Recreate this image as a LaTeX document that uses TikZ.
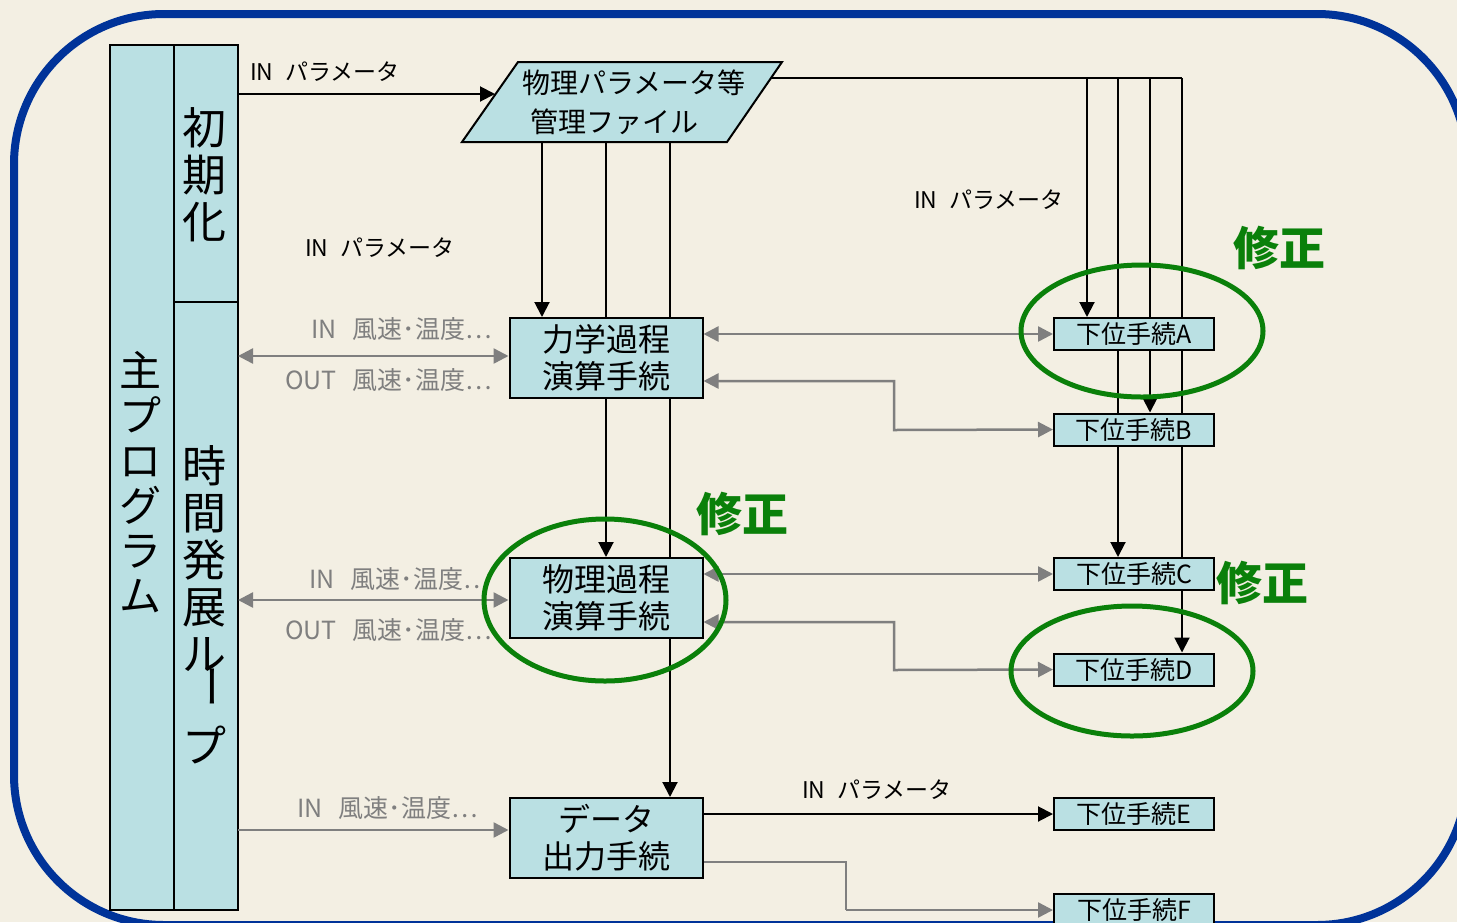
\documentclass[tikz,border=0pt]{standalone}
\usepackage{fontspec}
\setmainfont{Noto Sans CJK JP}
\usetikzlibrary{arrows.meta,shapes.geometric}
\definecolor{bg}{HTML}{F3EFE3}
\definecolor{frame}{HTML}{003399}
\definecolor{boxfill}{HTML}{BAE0E3}
\definecolor{grn}{HTML}{0A800A}
\definecolor{gry}{HTML}{7F7F7F}
\tikzset{
  pbox/.style={draw=black, line width=2pt, fill=boxfill, inner sep=0pt, align=center},
  bigbox/.style={pbox, minimum width=193pt, minimum height=80pt, font=\fontsize{32}{37}\selectfont},
  subbox/.style={pbox, minimum width=160pt, minimum height=32pt, font=\fontsize{25}{26}\selectfont},
  colbox/.style={pbox, minimum width=64pt},
  blk/.style={draw=black, line width=2pt},
  blkarr/.style={blk, -{Triangle[length=15pt,width=15pt]}},
  gar/.style={draw=gry, line width=2.5pt},
  garr/.style={gar, -{Triangle[length=15pt,width=15pt]}},
  gdbl/.style={gar, {Triangle[length=15pt,width=15pt]}-{Triangle[length=15pt,width=15pt]}},
  lbl/.style={font=\fontsize{23}{25}\selectfont, inner sep=0pt},
  glbl/.style={font=\fontsize{25}{27}\selectfont, text=gry, inner sep=0pt, anchor=east},
  fix/.style={font=\fontsize{46}{50}\selectfont\bfseries, text=grn, inner sep=0pt},
  oval/.style={draw=grn, line width=5pt}
}
\begin{document}
\begin{tikzpicture}[x=1pt,y=-1pt]
\useasboundingbox (0,0) rectangle (1457,922);
\fill[bg] (0,0) rectangle (1457,922);
\draw[frame, line width=8pt, rounded corners=150pt] (14,14) rectangle (1467,925);

% left columns
\node[colbox, minimum height=865pt] (mainp) at (142,477.5) {};
\node[colbox, minimum height=257pt] (init) at (206,173.5) {};
\node[colbox, minimum height=608pt] (loop) at (206,606) {};
\node[font=\fontsize{42}{45}\selectfont, align=center, inner sep=0pt] (mainpt) at (140,482) {主\\プ\\ロ\\グ\\ラ\\ム};
\node[font=\fontsize{44}{47}\selectfont, align=center, inner sep=0pt] (initt) at (204,175) {初\\期\\化};
\node[font=\fontsize{44}{47}\selectfont, align=center, inner sep=0pt] (loopt) at (204,559) {時\\間\\発\\展\\ル};
\node[font=\fontsize{44}{47}\selectfont, inner sep=0pt, rotate=-90] (loopbar) at (205,686) {ー};
\node[font=\fontsize{44}{47}\selectfont, inner sep=0pt] (loopp) at (204,745) {プ};

% coordinates
\coordinate (pl) at (495,94);
\coordinate (pr) at (771,78);
\coordinate (pb1) at (542,142);
\coordinate (pb2) at (606,142);
\coordinate (pb3) at (670,142);
\coordinate (t1) at (1087,78);
\coordinate (t2) at (1118,78);
\coordinate (t3) at (1150,78);
\coordinate (t4) at (1182,78);
\coordinate (li) at (238,94);
\coordinate (l1) at (238,356);
\coordinate (l2) at (238,600);
\coordinate (l3) at (238,830);
\coordinate (b1) at (894,381);
\coordinate (b2) at (894,430);
\coordinate (d1) at (894,622);
\coordinate (d2) at (894,670);
\coordinate (f1) at (846,862);
\coordinate (f2) at (846,910);

% box anchors (invisible first pass)
\node[bigbox, draw=none, fill=none] (rk) at (606,358) {};
\node[bigbox, draw=none, fill=none] (bk) at (606,598) {};
\node[bigbox, draw=none, fill=none] (dk) at (606,838) {};
\node[subbox, draw=none, fill=none] (sA) at (1134,334) {};
\node[subbox, draw=none, fill=none] (sB) at (1134,429.5) {};
\node[subbox, draw=none, fill=none] (sC) at (1134,574) {};
\node[subbox, draw=none, fill=none] (sD) at (1134,669.5) {};
\node[subbox, draw=none, fill=none] (sE) at (1134,814) {};
\node[subbox, draw=none, fill=none] (sF) at (1134,910) {};

% connectors
\draw[blkarr] (li) -- (pl);
\draw[blkarr] (pb1) -- (pb1 |- rk.north);
\draw[blkarr] (pb2) -- (pb2 |- bk.north);
\draw[blkarr] (pb3) -- (pb3 |- dk.north);
\draw[blk] (pr) -- (t4);
\draw[blkarr] (t1) -- (t1 |- sA.north);
\draw[blkarr] (t2) -- (t2 |- sC.north);
\draw[blkarr] (t3) -- (t3 |- sB.north);
\draw[blkarr] (t4) -- (t4 |- sD.north);

\draw[gdbl] (l1) -- (l1 -| rk.west);
\draw[gdbl] (l2) -- (l2 -| bk.west);
\draw[garr] (l3) -- (l3 -| dk.west);
\draw[gdbl] (rk.east |- sA.west) -- (sA.west);
\draw[gdbl] (b1 -| rk.east) -- (b1) -- (b2) -- (sB.west);
\draw[gdbl] (bk.east |- sC.west) -- (sC.west);
\draw[gdbl] (d1 -| bk.east) -- (d1) -- (d2) -- (sD.west);
\draw[blkarr] (dk.east |- sE.west) -- (sE.west);
\draw[gar] (f1 -| dk.east) -- (f1) -- (f2);
\draw[garr] (f2) -- (sF.west);

% boxes on top of lines
\node[bigbox] (rkb) at (rk) {力学過程\\演算手続};
\node[bigbox] (bkb) at (bk) {物理過程\\演算手続};
\node[bigbox] (dkb) at (dk) {データ\\出力手続};
\node[subbox] (sAb) at (sA) {下位手続A};
\node[subbox] (sBb) at (sB) {下位手続B};
\node[subbox] (sCb) at (sC) {下位手続C};
\node[subbox] (sDb) at (sD) {下位手続D};
\node[subbox] (sEb) at (sE) {下位手続E};
\node[subbox] (sFb) at (sF) {下位手続F};

% parameter file
\draw[line width=2pt, fill=boxfill] (518,62) -- (782,62) -- (727,142) -- (462,142) -- cycle;
\node[font=\fontsize{28}{30}\selectfont, inner sep=0pt] (pf1) at (634,83) {物理パラメータ等};
\node[font=\fontsize{28}{30}\selectfont, inner sep=0pt] (pf2) at (614,122) {管理ファイル};

% labels
\node[lbl, anchor=west] (in1) at (250,72) {IN\hspace{12pt}パラメータ};
\node[lbl, anchor=west] (in2) at (305,248) {IN\hspace{12pt}パラメータ};
\node[lbl, anchor=west] (in3) at (914,200) {IN\hspace{12pt}パラメータ};
\node[lbl, anchor=west] (in4) at (802,790) {IN\hspace{12pt}パラメータ};
\node[glbl] (g1) at (492,329) {IN\hspace{16pt}風速･温度…};
\node[glbl] (g2) at (492,380) {OUT\hspace{16pt}風速･温度…};
\node[glbl] (g3) at (490,579) {IN\hspace{16pt}風速･温度…};
\node[glbl] (g4) at (492,630) {OUT\hspace{16pt}風速･温度…};
\node[glbl] (g5) at (478,808) {IN\hspace{16pt}風速･温度…};

% green marks
\draw[oval] (1142,331) ellipse [x radius=121, y radius=66];
\draw[oval] (605,600) ellipse [x radius=121, y radius=81];
\draw[oval] (1132,671) ellipse [x radius=121, y radius=65];
\node[fix] (fx1) at (1279,248) {修正};
\node[fix] (fx2) at (742,514) {修正};
\node[fix] (fx3) at (1262,583) {修正};
\end{tikzpicture}
\end{document}
